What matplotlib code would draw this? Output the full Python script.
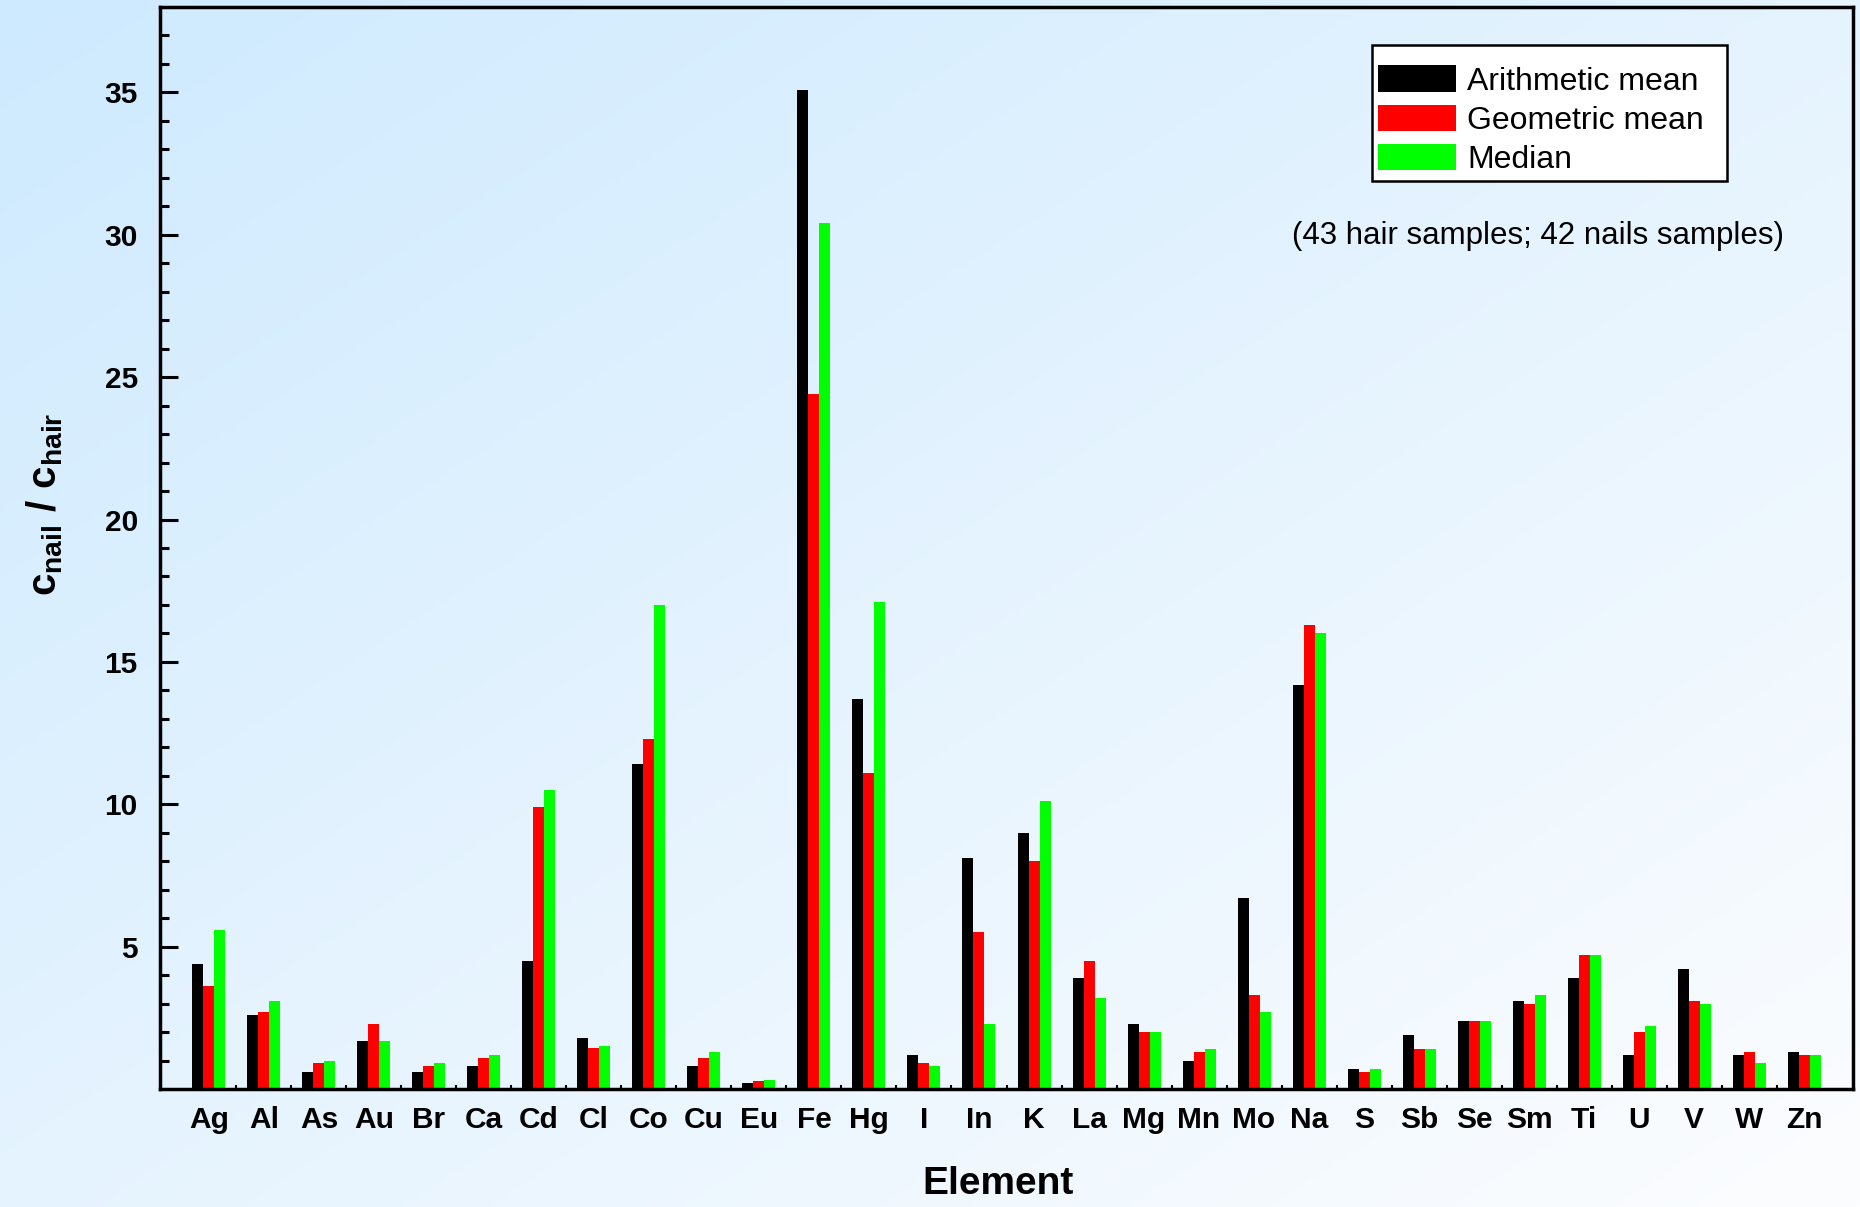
import numpy as np
import matplotlib
matplotlib.use("Agg")
import matplotlib.pyplot as plt
from matplotlib.patches import Patch, Rectangle

plt.rcParams['font.family'] = ['Liberation Sans', 'DejaVu Sans']
plt.rcParams['mathtext.fontset'] = 'custom'
plt.rcParams['mathtext.rm'] = 'Liberation Sans:bold'
plt.rcParams['mathtext.it'] = 'Liberation Sans:bold'
plt.rcParams['mathtext.bf'] = 'Liberation Sans:bold'

elements = ["Ag", "Al", "As", "Au", "Br", "Ca", "Cd", "Cl", "Co", "Cu", "Eu", "Fe",
            "Hg", "I", "In", "K", "La", "Mg", "Mn", "Mo", "Na", "S", "Sb", "Se",
            "Sm", "Ti", "U", "V", "W", "Zn"]
arith_mean = [4.4, 2.6, 0.6, 1.7, 0.6, 0.8, 4.5, 1.8, 11.4, 0.8, 0.2, 35.1,
              13.7, 1.2, 8.1, 9.0, 3.9, 2.3, 1.0, 6.7, 14.2, 0.7, 1.9, 2.4,
              3.1, 3.9, 1.2, 4.2, 1.2, 1.3]
geom_mean = [3.6, 2.7, 0.9, 2.3, 0.8, 1.1, 9.9, 1.45, 12.3, 1.1, 0.28, 24.4,
             11.1, 0.9, 5.5, 8.0, 4.5, 2.0, 1.3, 3.3, 16.3, 0.6, 1.4, 2.4,
             3.0, 4.7, 2.0, 3.1, 1.3, 1.2]
median = [5.6, 3.1, 1.0, 1.7, 0.9, 1.2, 10.5, 1.5, 17.0, 1.3, 0.32, 30.4,
          17.1, 0.8, 2.3, 10.1, 3.2, 2.0, 1.4, 2.7, 16.0, 0.7, 1.4, 2.4,
          3.3, 4.7, 2.2, 3.0, 0.9, 1.2]
series_names = ["Arithmetic mean", "Geometric mean", "Median"]

W, H = 1860, 1207
fig = plt.figure(figsize=(W / 100, H / 100), dpi=100)

# gradient background
bg = fig.add_axes([0, 0, 1, 1], zorder=-10)
xx, yy = np.meshgrid(np.linspace(0, 1, 400), np.linspace(0, 1, 260))
t = (xx + yy) / 2
c0 = np.array([206, 234, 254]) / 255
c1 = np.array([252, 253, 255]) / 255
img = c0[None, None, :] * (1 - t[..., None]) + c1[None, None, :] * t[..., None]
bg.imshow(img, aspect='auto', extent=[0, 1, 1, 0])
bg.set_xlim(0, 1)
bg.set_ylim(1, 0)
bg.axis('off')

ax = fig.add_axes([160 / W, 1 - 1089 / H, (1853 - 160) / W, (1089 - 7) / H])
ax.set_facecolor('none')

n = len(elements)
x = np.arange(1, n + 1)
bw = 0.2
ax.bar(x - bw, arith_mean, bw, color='black', linewidth=0)
ax.bar(x, geom_mean, bw, color='#ff0000', linewidth=0)
ax.bar(x + bw, median, bw, color='#00ff00', linewidth=0)

ax.set_xlim(0.11, n + 0.89)
ax.set_ylim(0, 38)

ax.set_xticks(x)
ax.set_xticklabels(elements, fontsize=21.5, fontweight='bold')
ax.set_xticks(np.arange(1.5, n, 1), minor=True)
ax.tick_params(axis='x', which='major', length=0, pad=12)
ax.tick_params(axis='x', which='minor', direction='in', length=3, width=1.5)

ax.set_yticks(np.arange(5, 36, 5))
ax.set_yticklabels([str(v) for v in range(5, 36, 5)], fontsize=21.5, fontweight='bold')
ax.set_yticks(np.arange(1, 38, 1), minor=True)
ax.tick_params(axis='y', which='major', direction='in', length=13, width=2.2, pad=16)
ax.tick_params(axis='y', which='minor', direction='in', length=6.5, width=2.2)

for s in ax.spines.values():
    s.set_linewidth(2.5)

ax.set_xlabel('Element', fontsize=28, fontweight='bold', va='center')
ax.xaxis.set_label_coords(0.495, -0.088)
ax.set_ylabel(r'$\mathrm{c_{nail}\ /\ c_{hair}}$', fontsize=29, va='center')
ax.yaxis.set_label_coords(-0.068, 0.54)

# legend box drawn separately so the padding matches the original
ax.add_patch(Rectangle((0.7159, 0.8392), 0.2097, 0.1257, transform=ax.transAxes,
                       facecolor='white', edgecolor='black', linewidth=1.8, zorder=4))
handles = [Patch(facecolor='black', edgecolor='none'),
           Patch(facecolor='#ff0000', edgecolor='none'),
           Patch(facecolor='#00ff00', edgecolor='none')]
leg = ax.legend(handles, series_names,
                loc='upper left', bbox_to_anchor=(0.7194, 0.946), borderaxespad=0,
                fontsize=23, frameon=False,
                handlelength=2.45, handleheight=0.88, handletextpad=0.35,
                labelspacing=0.25, borderpad=0)
leg.set_zorder(5)

ax.text(1538 / W, 1 - 236 / H, '(43 hair samples; 42 nails samples)',
        transform=fig.transFigure, fontsize=22.5, ha='center', va='center')

fig.savefig('out.png', dpi=100)
